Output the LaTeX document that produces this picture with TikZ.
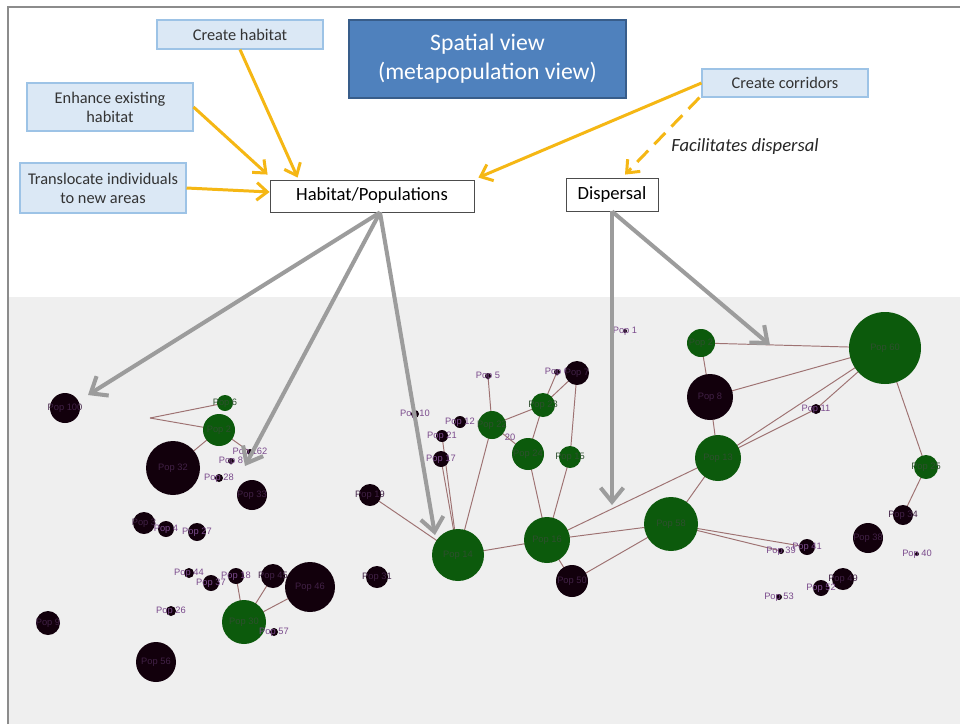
\documentclass[tikz,border=0pt]{standalone}
\usepackage{fontspec}
\setmainfont{Carlito}
\newfontfamily\popfont{Liberation Sans}
\usetikzlibrary{arrows.meta}
\definecolor{panel}{HTML}{EFEFEF}
\definecolor{framec}{HTML}{8C8C8C}
\definecolor{boxfill}{HTML}{DBE8F5}
\definecolor{boxline}{HTML}{9DC3E6}
\definecolor{titlefill}{HTML}{4F81BD}
\definecolor{titleline}{HTML}{385D8A}
\definecolor{ylw}{HTML}{F5B714}
\definecolor{gry}{HTML}{9C9C9C}
\definecolor{edgec}{HTML}{9E7272}
\definecolor{popgreen}{HTML}{0C5A0C}
\definecolor{popblack}{HTML}{12000C}
\definecolor{poptext}{HTML}{7A4A8C}
\definecolor{greentext}{HTML}{2E4F2E}
\pgfdeclarelayer{back}
\pgfdeclarelayer{links}
\pgfsetlayers{back,links,main}
\tikzset{
  actbox/.style={draw=boxline, fill=boxfill, line width=0.6pt, align=center,
    inner sep=1pt, font=\fontsize{9.3}{10.8}\selectfont, text=black!80},
  plainbox/.style={draw=black!70, fill=white, line width=0.5pt, align=center,
    inner sep=1pt, font=\fontsize{10.6}{12}\selectfont},
  yarrow/.style={draw=ylw, line width=1.7pt, -{Straight Barb[length=6pt,width=10pt]}},
  garrow/.style={draw=gry, line width=2.3pt, -{Straight Barb[length=8pt,width=13pt]}},
  pop/.style={circle, inner sep=0pt, minimum size={2*#1*0.02cm}},
  blk/.style={pop=#1, fill=popblack},
  grn/.style={pop=#1, fill=popgreen},
  plab/.style={font=\popfont\fontsize{5.3}{5.3}\selectfont, text=poptext, inner sep=0pt},
  dlab/.style={font=\popfont\fontsize{5.3}{5.3}\selectfont, text=poptext!45!popblack, inner sep=0pt},
  glab/.style={font=\popfont\fontsize{5.3}{5.3}\selectfont, text=greentext, inner sep=0pt},
  edge/.style={draw=edgec, line width=0.55pt}
}
\begin{document}
\begin{tikzpicture}[x=0.02cm,y=-0.02cm]
\useasboundingbox (0,0) rectangle (960,724);
\begin{pgfonlayer}{back}
  \fill[white] (0,0) rectangle (960,724);
  \fill[panel] (9,297) rectangle (960,724);
  \draw[framec, line width=0.9pt] (8,724) -- (8,7) -- (960,7);
\end{pgfonlayer}

% ---- management actions and processes ----
\node[actbox, minimum width=3.32cm, minimum height=0.58cm] (ch) at (240,34.5) {Create habitat};
\node[actbox, minimum width=3.32cm, minimum height=0.96cm] (enh) at (110,107) {Enhance existing\\habitat};
\node[actbox, minimum width=3.32cm, minimum height=1.0cm] (tr) at (103,188) {Translocate individuals\\to new areas};
\node[draw=titleline, fill=titlefill, line width=0.8pt, minimum width=5.54cm, minimum height=1.56cm,
      align=center, text=white, font=\fontsize{13.5}{16.5}\selectfont] (sv) at (487.5,59)
      {Spatial view\\(metapopulation view)};
\node[actbox, minimum width=3.32cm, minimum height=0.56cm] (cc) at (785,83) {Create corridors};
\node[plainbox, minimum width=4.08cm, minimum height=0.64cm] (hp) at (372,196) {Habitat/Populations};
\node[plainbox, minimum width=1.84cm, minimum height=0.66cm] (dp) at (612,194.5) {Dispersal};
\node[font=\itshape\fontsize{10.6}{12}\selectfont, text=black!85] (fd) at (745,147) {Facilitates dispersal};

\draw[yarrow] (ch.south) -- ([xshift=0.56cm,yshift=0.04cm]hp.north west);
\draw[yarrow] (enh.east) -- ([xshift=-0.04cm,yshift=0.1cm]hp.north west);
\draw[yarrow] (tr.east) -- ([yshift=0.08cm]hp.west);
\draw[yarrow] (cc.west) -- ([xshift=0.08cm,yshift=0.04cm]hp.north east);
\draw[yarrow, dashed, dash pattern=on 9pt off 5pt] ([xshift=-0.04cm]cc.south west) -- ([xshift=0.26cm,yshift=0.06cm]dp.north);

% ---- populations: left group ----
\node[blk=15, label={[dlab]center:Pop 100}] (a1) at (65,408) {};
\node[grn=8,  label={[glab]center:Pop 6}] (a2) at (225,403) {};
\node[grn=16, label={[glab]center:Pop 2}] (a3) at (219,430) {};
\node[blk=27, label={[dlab]center:Pop 32}] (a4) at (173,468) {};
\node[blk=3,  label={[plab]center:Pop 162}] (a5) at (250,452) {};
\node[blk=3,  label={[plab]center:Pop 8}] (a6) at (231,461) {};
\node[blk=4,  label={[plab]center:Pop 28}] (a7) at (219,478) {};
\node[blk=15, label={[dlab]center:Pop 33}] (a8) at (252,495) {};
\node[blk=11, label={[dlab]center:Pop 3}] (a9) at (144,523) {};
\node[blk=8,  label={[plab]center:Pop 4}] (a10) at (166,529) {};
\node[blk=9,  label={[plab]center:Pop 27}] (a11) at (197,532) {};
\coordinate (v1) at (150,418);

% ---- populations: lower left group ----
\node[blk=5,  label={[plab]center:Pop 44}] (b1) at (189,573) {};
\node[blk=8,  label={[plab]center:Pop 37}] (b2) at (211,583) {};
\node[blk=8,  label={[plab]center:Pop 18}] (b3) at (236,576) {};
\node[blk=12, label={[dlab]center:Pop 45}] (b4) at (273,576) {};
\node[blk=25, label={[dlab]center:Pop 46}] (b5) at (310,587) {};
\node[blk=11, label={[dlab]center:Pop 31}] (b6) at (377,577) {};
\node[blk=5,  label={[plab]center:Pop 26}] (b7) at (171,611) {};
\node[blk=12, label={[dlab]center:Pop 9}] (b8) at (48,623) {};
\node[grn=22, label={[glab]center:Pop 30}] (b9) at (244,622) {};
\node[blk=4,  label={[plab]center:Pop 57}] (b10) at (274,632) {};
\node[blk=20, label={[dlab]center:Pop 56}] (b11) at (156,662) {};

% ---- populations: central group ----
\node[blk=11, label={[dlab]center:Pop 19}] (m1) at (370,495) {};
\node[grn=26, label={[glab]center:Pop 14}] (m2) at (458,555) {};
\node[blk=4,  label={[plab]center:Pop 10}] (m3) at (415,414) {};
\node[blk=6,  label={[plab]center:Pop 12}] (m4) at (460,422) {};
\node[blk=6,  label={[plab]center:Pop 21}] (m5) at (442,436) {};
\node[blk=8,  label={[plab]center:Pop 17}] (m6) at (441,459) {};
\node[blk=3,  label={[plab]center:Pop 5}] (m7) at (488,376) {};
\node[grn=14, label={[glab]center:Pop 22}] (m8) at (492,425) {};
\node[plab] (t20) at (510,437) {20};
\node[grn=12, label={[glab]center:Pop 23}] (m9) at (543,405) {};
\node[blk=3,  label={[plab]center:Pop 6}] (m10) at (557,372) {};
\node[blk=12, label={[dlab]center:Pop 7}] (m11) at (577,373) {};
\node[grn=16, label={[glab]center:Pop 24}] (m12) at (528,454) {};
\node[grn=11, label={[glab]center:Pop 15}] (m13) at (570,457) {};
\node[grn=23, label={[glab]center:Pop 16}] (m14) at (547,540) {};
\node[blk=16, label={[dlab]center:Pop 50}] (m15) at (572,581) {};
\node[blk=2,  label={[plab]center:Pop 1}] (m16) at (625,331) {};

% ---- populations: right group ----
\node[grn=14, label={[glab]center:Pop 2}] (r1) at (701,343) {};
\node[grn=36, label={[glab]center:Pop 60}] (r2) at (885,348) {};
\node[blk=23, label={[dlab]center:Pop 8}] (r3) at (710,397) {};
\node[blk=5,  label={[plab]center:Pop 11}] (r4) at (816,409) {};
\node[grn=23, label={[glab]center:Pop 13}] (r5) at (718,458) {};
\node[grn=27, label={[glab]center:Pop 58}] (r6) at (671,524) {};
\node[grn=12, label={[glab]center:Pop 25}] (r7) at (926,467) {};
\node[blk=10, label={[dlab]center:Pop 34}] (r8) at (903,515) {};
\node[blk=15, label={[dlab]center:Pop 38}] (r9) at (868,538) {};
\node[blk=3,  label={[plab]center:Pop 39}] (r10) at (781,551) {};
\node[blk=8,  label={[plab]center:Pop 41}] (r11) at (807,547) {};
\node[blk=2,  label={[plab]center:Pop 40}] (r12) at (917,554) {};
\node[blk=11, label={[dlab]center:Pop 49}] (r13) at (843,579) {};
\node[blk=8,  label={[plab]center:Pop 52}] (r14) at (821,588) {};
\node[blk=3,  label={[plab]center:Pop 53}] (r15) at (779,597) {};

% ---- links between populations ----
\begin{pgfonlayer}{links}
\foreach \p/\q in {a2/v1, a3/v1, a3/a4, a3/a5,
                   b9/b3, b9/b4, b9/b5,
                   m1/m2, m5/m2, m6/m2, m8/m2, m8/m7, m8/m9, m8/m12,
                   m9/m12, m9/m10, m9/m11, m11/m13, m12/m14, m13/m14,
                   m14/m2, m14/m15, m14/r6, m14/r5, m15/r6,
                   r1/r2, r1/r3, r3/r2, r3/r5, r5/r2, r5/r4, r4/r2,
                   r5/r6, r6/r10, r6/r11, r2/r7, r7/r8}
  \draw[edge] (\p.center) -- (\q.center);
\end{pgfonlayer}

% ---- process arrows into the network ----
\coordinate (g1) at (88,395);
\coordinate (g2) at (245,466);
\coordinate (g3) at (435,535);
\coordinate (g4) at (612,505);
\coordinate (g5) at (770,345);
\draw[garrow] ([xshift=0.16cm]hp.south) -- (g1);
\draw[garrow] ([xshift=0.16cm]hp.south) -- (g2);
\draw[garrow] ([xshift=0.16cm]hp.south) -- (g3);
\draw[garrow] (dp.south) -- (g4);
\draw[garrow] (dp.south) -- (g5);
\end{tikzpicture}
\end{document}
